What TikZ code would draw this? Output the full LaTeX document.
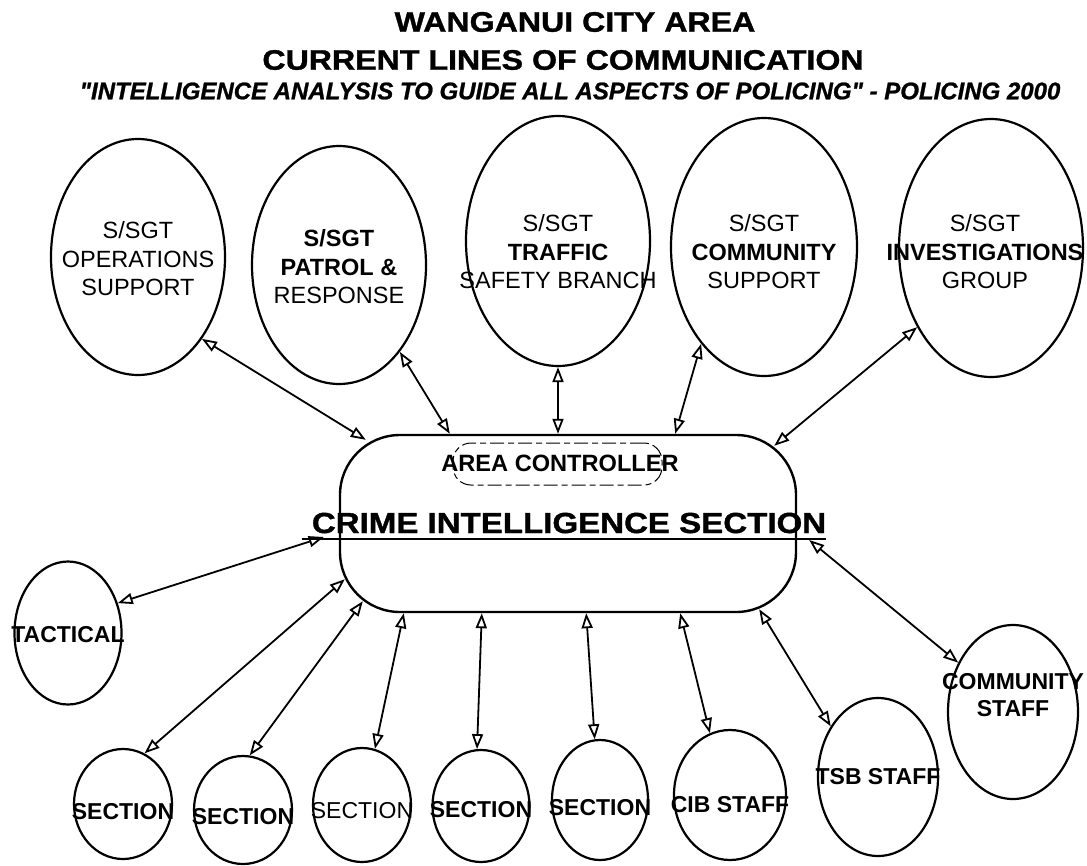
\documentclass[tikz,border=0pt]{standalone}
\usepackage{fontspec}
\setmainfont{Liberation Sans}
\newfontfamily\widefont[FakeStretch=1.14, FakeBold=1.2]{Liberation Sans}
\newfontfamily\mottofont[FakeBold=1]{Liberation Sans}
\usetikzlibrary{arrows.meta,shapes.geometric}

\begin{document}
\begin{tikzpicture}[x=1pt, y=-1pt,
    every node/.style={align=center, inner sep=0pt},
    unit/.style={draw, ellipse, line width=2.2pt},
    txt/.style={font=\fontsize{23.5}{28.5}\selectfont, align=center, inner sep=0pt},
    sml/.style={font=\bfseries\fontsize{23}{27}\selectfont, align=center, inner sep=0pt},
    link/.style={{Triangle[open,length=15pt,width=11pt]}-{Triangle[open,length=15pt,width=11pt]}, line width=1.8pt}]
  \useasboundingbox (0,0) rectangle (1087,865);
  % heading
  \node[font=\widefont\bfseries\fontsize{28.2}{30}\selectfont] (head1) at (575,22) {WANGANUI CITY AREA};
  \node[font=\widefont\bfseries\fontsize{28.2}{30}\selectfont] (head2) at (563,60) {CURRENT LINES OF COMMUNICATION};
  \node[font=\mottofont\bfseries\itshape\fontsize{24}{26}\selectfont] (motto) at (570,91) {"INTELLIGENCE ANALYSIS TO GUIDE ALL ASPECTS OF POLICING" - POLICING 2000};
  % centre
  \node[draw, rounded corners=60pt, line width=2.4pt, minimum width=456pt, minimum height=177pt] (cis) at (568,523.5) {};
  \node[draw, dash pattern=on 14pt off 4pt on 6pt off 4pt, rounded corners=18pt, line width=1pt, minimum width=209pt, minimum height=42pt] (ctl) at (557.5,464) {};
  \node[font=\bfseries\fontsize{23.6}{26}\selectfont] (ctltxt) at (560,463) {AREA CONTROLLER};
  \node[font=\widefont\bfseries\fontsize{29}{32}\selectfont, anchor=base] (crime) at (569,533) {CRIME INTELLIGENCE SECTION};
  \draw[line width=2.2pt] ([shift={(-10,6)}]crime.base west) -- ([shift={(0,6)}]crime.base east);
  % senior sergeants
  \node[unit, minimum width=174pt, minimum height=236pt, label={[txt,yshift=-2pt]center:{S/SGT\\OPERATIONS\\SUPPORT}}] (ops) at (138,257) {};
  \node[unit, minimum width=174pt, minimum height=238pt, label={[txt,yshift=-2pt]center:{\textbf{S/SGT}\\\textbf{PATROL \&}\\RESPONSE}}] (pat) at (339,265) {};
  \node[unit, minimum width=184pt, minimum height=250pt, label={[txt,yshift=-11pt]center:{S/SGT\\\textbf{TRAFFIC}\\SAFETY BRANCH}}] (trf) at (558,241) {};
  \node[unit, minimum width=186pt, minimum height=258pt, label={[txt,yshift=-5pt]center:{S/SGT\\\textbf{COMMUNITY}\\SUPPORT}}] (cms) at (764,247) {};
  \node[unit, minimum width=184pt, minimum height=258pt, label={[txt,xshift=-6pt,yshift=-4pt]center:{S/SGT\\\textbf{INVESTIGATIONS}\\GROUP}}] (inv) at (991,248) {};
  % staff
  \node[unit, minimum width=107pt, minimum height=143pt, label={[sml,yshift=-2pt]center:TACTICAL}] (tac) at (68,633) {};
  \node[unit, minimum width=98pt, minimum height=110pt, label={[sml,yshift=-8pt]center:SECTION}] (s1) at (123,804) {};
  \node[unit, minimum width=98pt, minimum height=108pt, label={[sml,yshift=-7pt]center:SECTION}] (s2) at (243,810) {};
  \node[unit, minimum width=98pt, minimum height=114pt, label={[sml,font=\fontsize{23}{27}\selectfont,yshift=-6pt]center:SECTION}] (s3) at (362,805) {};
  \node[unit, minimum width=97pt, minimum height=112pt, label={[sml,yshift=-4pt]center:SECTION}] (s4) at (481,806) {};
  \node[unit, minimum width=96pt, minimum height=120pt, label={[sml,yshift=-8pt]center:SECTION}] (s5) at (600,800) {};
  \node[unit, minimum width=112pt, minimum height=130pt, label={[sml,yshift=-10pt]center:CIB STAFF}] (cib) at (730,795) {};
  \node[unit, minimum width=120pt, minimum height=158pt, label={[sml]center:TSB STAFF}] (tsb) at (878,777) {};
  \node[unit, minimum width=130pt, minimum height=174pt, label={[sml,yshift=17pt]center:{COMMUNITY\\STAFF}}] (cst) at (1013,712) {};
  % lines of communication
  \draw[link] (ops.-52) -- ([shift={(27,6)}]cis.north west);
  \draw[link] (pat.-55) -- ([shift={(111,0)}]cis.north west);
  \draw[link] (trf.south) -- (trf.south |- cis.north);
  \draw[link] (cms.-123) -- ([shift={(-122,0)}]cis.north east);
  \draw[link] (inv.-133) -- ([shift={(-23,12)}]cis.north east);
  \draw[link] (tac.31) -- ([shift={(-15,13.5)}]cis.west);
  \foreach \n/\ang/\sx/\sy in {s1/67/6/-34, s2/83/24/-12, s3/77/65/0, s4/94/143/0}
    \draw[link] (\n.\ang) -- ([shift={(\sx,\sy)}]cis.south west);
  \foreach \n/\ang/\sx/\sy in {s5/95/-211/0, cib/108/-117/0, tsb/133/-38/-4}
    \draw[link] (\n.\ang) -- ([shift={(\sx,\sy)}]cis.south east);
  \draw[link] (cst.138) -- ([shift={(12,16.5)}]cis.east);
\end{tikzpicture}
\end{document}
